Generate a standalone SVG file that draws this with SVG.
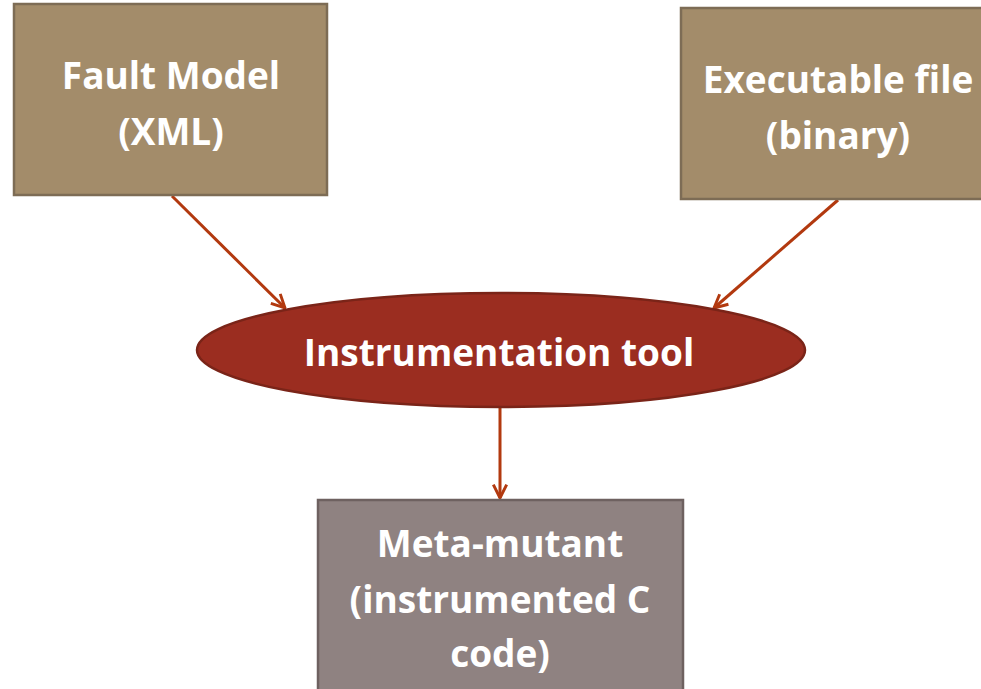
<svg xmlns="http://www.w3.org/2000/svg" width="981" height="689" viewBox="0 0 981 689">
<defs>
<style>
.t{font-family:"Open Sans","Liberation Sans",sans-serif;font-weight:bold;font-size:37px;fill:#fff;text-anchor:middle}
.box{fill:#a38c6a;stroke:#7d6c55;stroke-width:2.5}
.conn{stroke:#b2390f;stroke-width:3;fill:none;marker-end:url(#ah)}
</style>
<marker id="ah" viewBox="0 0 12 12" refX="11" refY="6" markerWidth="16" markerHeight="16" markerUnits="userSpaceOnUse" orient="auto">
<path d="M1,1 L11,6 L1,11" fill="none" stroke="#b2390f" stroke-width="2.2"/>
</marker>
</defs>
<rect width="981" height="689" fill="#fff"/>
<g id="connectors">
<line class="conn" x1="172" y1="196" x2="285" y2="308"/>
<line class="conn" x1="838" y1="200" x2="714" y2="308"/>
<line class="conn" x1="500" y1="408" x2="500" y2="498"/>
</g>
<g id="fault-model">
<rect class="box" x="14" y="4" width="313" height="191"/>
<text class="t" x="171" y="89">Fault Model</text>
<text class="t" x="171" y="145">(XML)</text>
</g>
<g id="executable">
<rect class="box" x="681" y="8" width="313" height="191"/>
<text class="t" x="838" y="93">Executable file</text>
<text class="t" x="838" y="149">(binary)</text>
</g>
<g id="instrumentation-tool">
<ellipse cx="501" cy="350" rx="304" ry="57" fill="#9b2d20" stroke="#7a2418" stroke-width="2.5"/>
<text class="t" x="499" y="366">Instrumentation tool</text>
</g>
<g id="meta-mutant">
<rect x="318" y="500" width="365" height="200" fill="#8f8281" stroke="#6e6160" stroke-width="2.5"/>
<text class="t" x="500" y="557">Meta-mutant</text>
<text class="t" x="500" y="613">(instrumented C</text>
<text class="t" x="500" y="667">code)</text>
</g>
</svg>
